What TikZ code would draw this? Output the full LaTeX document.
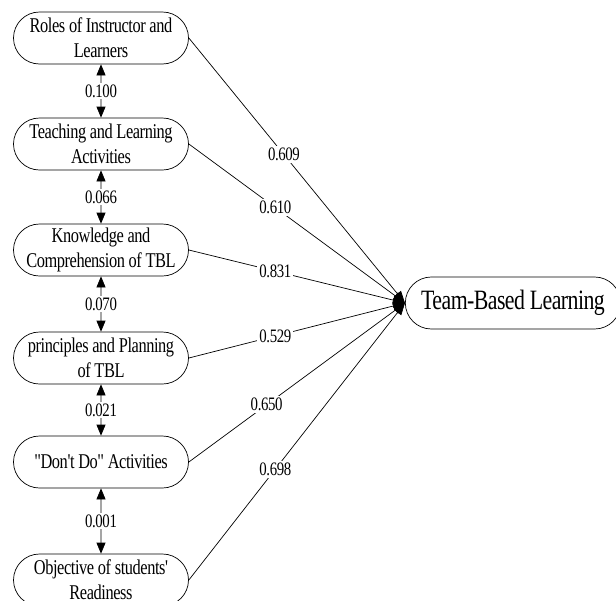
\documentclass[tikz,border=0pt]{standalone}
\usepackage{fontspec}
\setmainfont{Liberation Serif}[FakeStretch=0.78,LetterSpace=-2,Ligatures=TeXOff]
\usetikzlibrary{arrows.meta,shapes.misc}
\begin{document}
\begin{tikzpicture}[x=1pt,y=-1pt,
  factor/.style={draw,line width=0.7pt,rounded rectangle,minimum width=177pt,minimum height=52pt,
    align=center,inner sep=1pt,font=\fontsize{21}{25}\selectfont},
  latent/.style={draw,line width=0.7pt,rounded rectangle,minimum width=222pt,minimum height=52pt,
    font=\fontsize{28}{30}\selectfont},
  corr/.style={{Triangle[length=11pt,width=9pt]}-{Triangle[length=11pt,width=9pt]},line width=0.7pt},
  load/.style={-{Triangle[length=12pt,width=9pt]},line width=0.7pt},
  lbl/.style={fill=white,inner sep=2pt,font=\fontsize{19}{19}\selectfont}]
\useasboundingbox (0,0) rectangle (616,600);
\node[factor] (f1) at (101,38) {Roles of Instructor and\\Learners};
\node[factor] (f2) at (101,144) {Teaching and Learning\\Activities};
\node[factor] (f3) at (101,250) {Knowledge and\\Comprehension of TBL};
\node[factor] (f4) at (101,358) {principles and Planning\\of TBL};
\node[factor] (f5) at (101,462) {"Don't Do" Activities};
\node[factor] (f6) at (101,580) {Objective of students'\\Readiness};
\node[latent] (tbl) at (513,303) {Team-Based Learning};
\draw[corr] (f1) -- node[lbl] {0.100} (f2);
\draw[corr] (f2) -- node[lbl] {0.066} (f3);
\draw[corr] (f3) -- node[lbl] {0.070} (f4);
\draw[corr] (f4) -- node[lbl] {0.021} (f5);
\draw[corr] (f5) -- node[lbl] {0.001} (f6);
\draw[load] (f1.east) -- node[lbl,pos=0.44] {0.609} (tbl.west);
\draw[load] (f2.east) -- node[lbl,pos=0.4] {0.610} (tbl.west);
\draw[load] (f3.east) -- node[lbl,pos=0.4] {0.831} (tbl.west);
\draw[load] (f4.east) -- node[lbl,pos=0.4] {0.529} (tbl.west);
\draw[load] (f5.east) -- node[lbl,pos=0.36] {0.650} (tbl.west);
\draw[load] (f6.east) -- node[lbl,pos=0.4] {0.698} (tbl.west);
\end{tikzpicture}
\end{document}
